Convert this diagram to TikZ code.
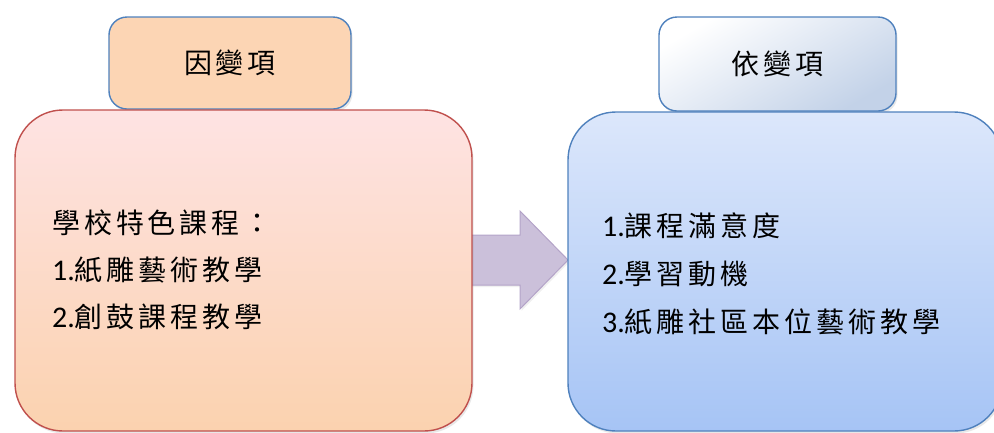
\documentclass[tikz,border=0pt]{standalone}
\usepackage{fontspec}
\setmainfont{Carlito}
\newfontfamily\cjk[LetterSpace=14]{Noto Sans CJK TC}
\usetikzlibrary{shadows}
\definecolor{bluebd}{HTML}{4F81BD}
\definecolor{redbd}{HTML}{C0504D}
\definecolor{orangefill}{HTML}{FCD5B4}
\definecolor{pinktop}{HTML}{FEE3E3}
\definecolor{peachbot}{HTML}{FBD2AF}
\definecolor{bluetop}{HTML}{DCE7FB}
\definecolor{bluebot}{HTML}{A6C4F5}
\definecolor{greyblue}{HTML}{C3D2E8}
\definecolor{arrowfill}{HTML}{CBC0DA}
\definecolor{arrowbd}{HTML}{B3A3C8}
\tikzset{
  softshadow/.style={drop shadow={shadow xshift=1.5pt, shadow yshift=-2.5pt, opacity=0.18}},
  titlebox/.style={draw=bluebd, line width=1.4pt, rounded corners=18pt, inner sep=0pt,
    softshadow, font=\cjk\fontsize{28}{34}\selectfont, text height=24.6pt, text depth=3.4pt},
  bigbox/.style={line width=1.4pt, rounded corners=48pt, inner sep=0pt, softshadow},
  txt/.style={anchor=base west, inner sep=0pt, font=\fontsize{30}{36}\selectfont},
  cj/.style={},
  bigarrow/.style={fill=arrowfill, draw=arrowbd, line width=1pt, line join=miter,
    drop shadow={shadow xshift=1.5pt, shadow yshift=-2pt, opacity=0.12}}
}
\newcommand{\zh}[1]{{\cjk\fontsize{28}{34}\selectfont #1}}
\begin{document}
\begin{tikzpicture}[x=1pt,y=-1pt]
\useasboundingbox (0,0) rectangle (994,432);
\begin{scope}
\clip (0,0) rectangle (994,432);
% title boxes
\node[titlebox, fill=orangefill, minimum width=242pt, minimum height=92pt] (tl) at (230,63) {因變項};
\node[titlebox, shading=axis, top color=white, bottom color=greyblue, shading angle=30,
      minimum width=237pt, minimum height=94pt] (tr) at (777.5,64) {依變項};
% arrow (shaft hidden behind left box)
\coordinate (arrtip) at (568,260);
\draw[bigarrow] (460,235) -- (520,235) -- (520,211) -- (arrtip) -- (520,309) -- (520,285) -- (460,285) -- cycle;
% big boxes
\node[bigbox, draw=redbd, top color=pinktop, bottom color=peachbot,
      minimum width=457pt, minimum height=321pt] (lb) at (243.5,270.5) {};
\node[bigbox, draw=bluebd, top color=bluetop, bottom color=bluebot,
      minimum width=434pt, minimum height=319pt] (rb) at (785,271.5) {};
% left texts
\node[txt] (l1) at (52,233.6) {\zh{學校特色課程：}};
\node[txt] (l2) at (52,280.6) {1.\zh{紙雕藝術教學}};
\node[txt] (l3) at (52,327.6) {2.\zh{創鼓課程教學}};
% right texts
\node[txt] (r1) at (602,236.6) {1.\zh{課程滿意度}};
\node[txt] (r2) at (602,284.6) {2.\zh{學習動機}};
\node[txt] (r3) at (602,332.6) {3.\zh{紙雕社區本位藝術教學}};
\end{scope}
\end{tikzpicture}
\end{document}
